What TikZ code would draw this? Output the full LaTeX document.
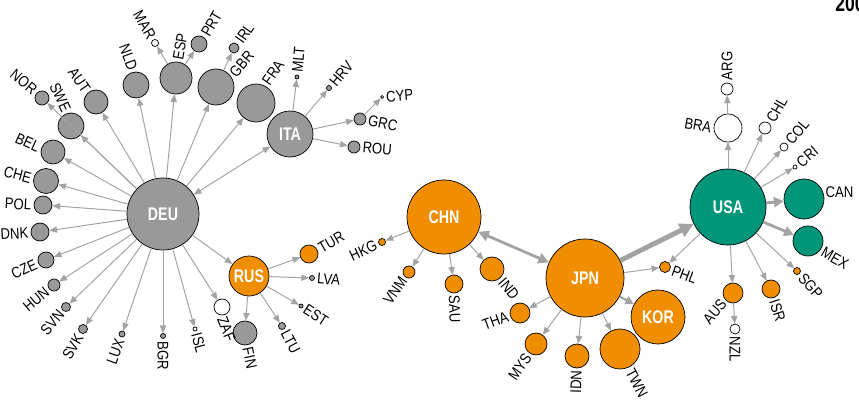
\documentclass[tikz,border=0pt]{standalone}
\usepackage{fontspec}
\setmainfont{Liberation Sans}[FakeStretch=0.85]
\newfontfamily\hubfont{Liberation Sans}[FakeStretch=0.78]
\usepackage{tikz}
\usetikzlibrary{arrows.meta,positioning}
\usepackage{xcolor}

\definecolor{eugray}{RGB}{153,153,153}
\definecolor{asorange}{RGB}{240,142,0}
\definecolor{usgreen}{RGB}{0,150,122}
\definecolor{linkgray}{RGB}{163,163,163}

\begin{document}
\begin{tikzpicture}[
    x=0.025cm, y=-0.025cm,
    sz/.style={minimum size=#1*0.05cm},
    country/.style={circle, draw=black, line width=0.5pt, inner sep=0pt},
    gnode/.style={country, fill=eugray},
    onode/.style={country, fill=asorange},
    gnnode/.style={country, fill=usgreen},
    wnode/.style={country, fill=white},
    hub/.style={text=white, font=\hubfont\bfseries\fontsize{13}{13}\selectfont},
    lbl/.style={inner sep=1.5pt, font=\fontsize{11}{11}\selectfont},
    link/.style={->, >={Triangle[length=5.5pt,width=4.5pt]}, draw=linkgray, line width=0.7pt}
]
\useasboundingbox (0,0) rectangle (859,406);

% Europe
\node[gnode, hub, sz=36] (deu) at (163,214) {DEU};
\node[gnode, hub, sz=23] (ita) at (290,134) {ITA};
\node[onode, hub, sz=20] (rus) at (249,276) {RUS};
\node[gnode, sz=7] (nor) at (42,98) {};
\node[gnode, sz=13] (swe) at (71,126) {};
\node[gnode, sz=12] (aut) at (96,102) {};
\node[gnode, sz=12] (bel) at (53,152) {};
\node[gnode, sz=12.5] (che) at (46,181) {};
\node[gnode, sz=9] (pol) at (43,205) {};
\node[gnode, sz=9] (dnk) at (40,232) {};
\node[gnode, sz=8] (cze) at (46,260) {};
\node[gnode, sz=6] (hun) at (54,285) {};
\node[gnode, sz=4.5] (svn) at (66,307) {};
\node[gnode, sz=4.5] (svk) at (83,329) {};
\node[gnode, sz=3] (lux) at (122,334) {};
\node[gnode, sz=2.5] (bgr) at (163,336) {};
\node[wnode, sz=2] (isl) at (195,329) {};
\node[wnode, sz=8] (zaf) at (222,307) {};
\node[gnode, sz=13] (nld) at (136,85) {};
\node[gnode, sz=16] (esp) at (176,78) {};
\node[wnode, sz=3.5] (mar) at (155,43) {};
\node[gnode, sz=8] (prt) at (199,44) {};
\node[gnode, sz=18] (gbr) at (216,87) {};
\node[gnode, sz=5] (irl) at (234,48) {};
\node[gnode, sz=19] (fra) at (256,103) {};
\node[gnode, sz=2] (mlt) at (297,77) {};
\node[gnode, sz=2.5] (hrv) at (329,88) {};
\node[wnode, sz=1.5] (cyp) at (382,97) {};
\node[gnode, sz=6] (grc) at (360,119) {};
\node[gnode, sz=6] (rou) at (354,147) {};
\node[onode, sz=9] (tur) at (309,254) {};
\node[gnode, sz=2.5] (lva) at (312,278) {};
\node[gnode, sz=2] (est) at (301,306) {};
\node[gnode, sz=3.5] (ltu) at (282,326) {};
\node[gnode, sz=12] (fin) at (245,333) {};

% Asia
\node[onode, hub, sz=37] (chn) at (444,217) {CHN};
\node[onode, hub, sz=39] (jpn) at (585,278) {JPN};
\node[onode, hub, sz=27] (kor) at (658,317) {KOR};
\node[onode, sz=3.5] (hkg) at (382,242) {};
\node[onode, sz=6] (vnm) at (409,272) {};
\node[onode, sz=9] (sau) at (454,284) {};
\node[onode, sz=12] (ind) at (492,269) {};
\node[onode, sz=10] (tha) at (520,313) {};
\node[onode, sz=11] (mys) at (536,344) {};
\node[onode, sz=12] (idn) at (577,356) {};
\node[onode, sz=20] (twn) at (620,349) {};
\node[onode, sz=5.5] (phl) at (665,267) {};

% Americas
\node[gnnode, hub, sz=38] (usa) at (728,207) {USA};
\node[wnode, sz=14] (bra) at (728,128) {};
\node[wnode, sz=6] (arg) at (727,89) {};
\node[wnode, sz=6] (chl) at (765,128) {};
\node[wnode, sz=4] (col) at (784,147) {};
\node[wnode, sz=2] (cri) at (795,167) {};
\node[gnnode, sz=20] (can) at (804,199) {};
\node[gnnode, sz=15] (mex) at (808,241) {};
\node[onode, sz=3.5] (sgp) at (797,271) {};
\node[onode, sz=9] (isr) at (771,289) {};
\node[onode, sz=10] (aus) at (733,293) {};
\node[wnode, sz=5] (nzl) at (735,329) {};

% Links
\foreach \dst in {nor,aut,bel,che,pol,dnk,cze,hun,svn,svk,lux,bgr,isl,zaf,nld,esp,gbr,fra,rus}
    \draw[link] (deu) -- (\dst);
\draw[link] (deu) -- (swe);
\draw[link, <->] (deu) -- (ita);
\draw[link] (esp) -- (mar);
\draw[link] (esp) -- (prt);
\draw[link] (gbr) -- (irl);
\foreach \dst in {mlt,hrv,grc,rou}
    \draw[link] (ita) -- (\dst);
\draw[link] (grc) -- (cyp);
\foreach \dst in {tur,lva,est,ltu,fin}
    \draw[link] (rus) -- (\dst);
\foreach \dst in {hkg,vnm,sau,ind}
    \draw[link] (chn) -- (\dst);
\draw[link, <->, line width=2pt, >={Triangle[length=7.5pt,width=7.5pt]}] (chn) -- (jpn);
\foreach \dst in {tha,mys,idn,twn,phl}
    \draw[link] (jpn) -- (\dst);
\draw[link, line width=1.5pt, >={Triangle[length=6pt,width=6pt]}] (jpn) -- (kor);
\draw[link, line width=3.5pt, >={Triangle[length=10pt,width=10pt]}] (jpn) -- (usa);
\foreach \dst in {bra,chl,col,cri,sgp,isr,aus,phl}
    \draw[link] (usa) -- (\dst);
\draw[link, line width=2pt, >={Triangle[length=7pt,width=7pt]}] (usa) -- (can);
\draw[link, line width=2pt, >={Triangle[length=7pt,width=7pt]}] (usa) -- (mex);
\draw[link] (bra) -- (arg);
\draw[link] (aus) -- (nzl);

% Labels
\node[lbl, rotate=-40, anchor=east] (lnor) at (nor.135) {NOR};
\node[lbl, rotate=-65, anchor=east] (lswe) at (swe.105) {SWE};
\node[lbl, rotate=-55, anchor=east] (laut) at (aut.130) {AUT};
\node[lbl, rotate=-25, anchor=east] (lbel) at (bel.165) {BEL};
\node[lbl, rotate=-15, anchor=east] (lche) at (che.170) {CHE};
\node[lbl, rotate=-3, anchor=east] (lpol) at (pol.180) {POL};
\node[lbl, rotate=3, anchor=east] (ldnk) at (dnk.185) {DNK};
\node[lbl, rotate=25, anchor=east] (lcze) at (cze.200) {CZE};
\node[lbl, rotate=40, anchor=east] (lhun) at (hun.215) {HUN};
\node[lbl, rotate=50, anchor=east] (lsvn) at (svn.225) {SVN};
\node[lbl, rotate=60, anchor=east] (lsvk) at (svk.240) {SVK};
\node[lbl, rotate=70, anchor=east] (llux) at (lux.250) {LUX};
\node[lbl, rotate=-90, anchor=west] (lbgr) at (bgr.270) {BGR};
\node[lbl, rotate=-75, anchor=west] (lisl) at (isl.285) {ISL};
\node[lbl, rotate=-68, anchor=west] (lzaf) at (zaf.262) {ZAF};
\node[lbl, rotate=-70, anchor=east] (lnld) at (nld.100) {NLD};
\node[lbl, rotate=80, anchor=west] (lesp) at (esp.85) {ESP};
\node[lbl, rotate=-60, anchor=east] (lmar) at (mar.120) {MAR};
\node[lbl, rotate=60, anchor=west] (lprt) at (prt.55) {PRT};
\node[lbl, rotate=50, anchor=west] (lgbr) at (gbr.35) {GBR};
\node[lbl, rotate=55, anchor=west] (lirl) at (irl.50) {IRL};
\node[lbl, rotate=55, anchor=west] (lfra) at (fra.65) {FRA};
\node[lbl, rotate=85, anchor=west] (lmlt) at (mlt.88) {MLT};
\node[lbl, rotate=50, anchor=west] (lhrv) at (hrv.45) {HRV};
\node[lbl, rotate=5, anchor=west] (lcyp) at (cyp.0) {CYP};
\node[lbl, rotate=-12, anchor=west] (lgrc) at (grc.-10) {GRC};
\node[lbl, rotate=-5, anchor=west] (lrou) at (rou.0) {ROU};
\node[lbl, rotate=30, anchor=west] (ltur) at (tur.25) {TUR};
\node[lbl, rotate=-5, anchor=west] (llva) at (lva.0) {LVA};
\node[lbl, rotate=-33, anchor=west] (lest) at (est.-30) {EST};
\node[lbl, rotate=-62, anchor=west] (lltu) at (ltu.-60) {LTU};
\node[lbl, rotate=-78, anchor=west] (lfin) at (fin.-80) {FIN};
\node[lbl, rotate=25, anchor=east] (lhkg) at (hkg.200) {HKG};
\node[lbl, rotate=55, anchor=east] (lvnm) at (vnm.230) {VNM};
\node[lbl, rotate=-88, anchor=west] (lsau) at (sau.270) {SAU};
\node[lbl, rotate=-50, anchor=west] (lind) at (ind.-50) {IND};
\node[lbl, rotate=20, anchor=east] (ltha) at (tha.195) {THA};
\node[lbl, rotate=55, anchor=east] (lmys) at (mys.235) {MYS};
\node[lbl, rotate=88, anchor=east] (lidn) at (idn.268) {IDN};
\node[lbl, rotate=-62, anchor=west] (ltwn) at (twn.-65) {TWN};
\node[lbl, rotate=-20, anchor=west] (lphl) at (phl.-30) {PHL};
\node[lbl, rotate=-10, anchor=east] (lbra) at (bra.180) {BRA};
\node[lbl, rotate=90, anchor=west] (larg) at (arg.90) {ARG};
\node[lbl, rotate=60, anchor=west] (lchl) at (chl.50) {CHL};
\node[lbl, rotate=50, anchor=west] (lcol) at (col.45) {COL};
\node[lbl, rotate=40, anchor=west] (lcri) at (cri.40) {CRI};
\node[lbl, anchor=west] (lcan) at (can.20) {CAN};
\node[lbl, rotate=-30, anchor=west] (lmex) at (mex.-35) {MEX};
\node[lbl, rotate=-48, anchor=west] (lsgp) at (sgp.-45) {SGP};
\node[lbl, rotate=-72, anchor=west] (lisr) at (isr.-75) {ISR};
\node[lbl, rotate=50, anchor=east] (laus) at (aus.220) {AUS};
\node[lbl, rotate=-90, anchor=west] (lnzl) at (nzl.270) {NZL};

\node[anchor=base west, inner sep=0pt, font=\hubfont\bfseries\fontsize{16}{16}\selectfont] (year) at (835,12) {200};

\end{tikzpicture}
\end{document}
